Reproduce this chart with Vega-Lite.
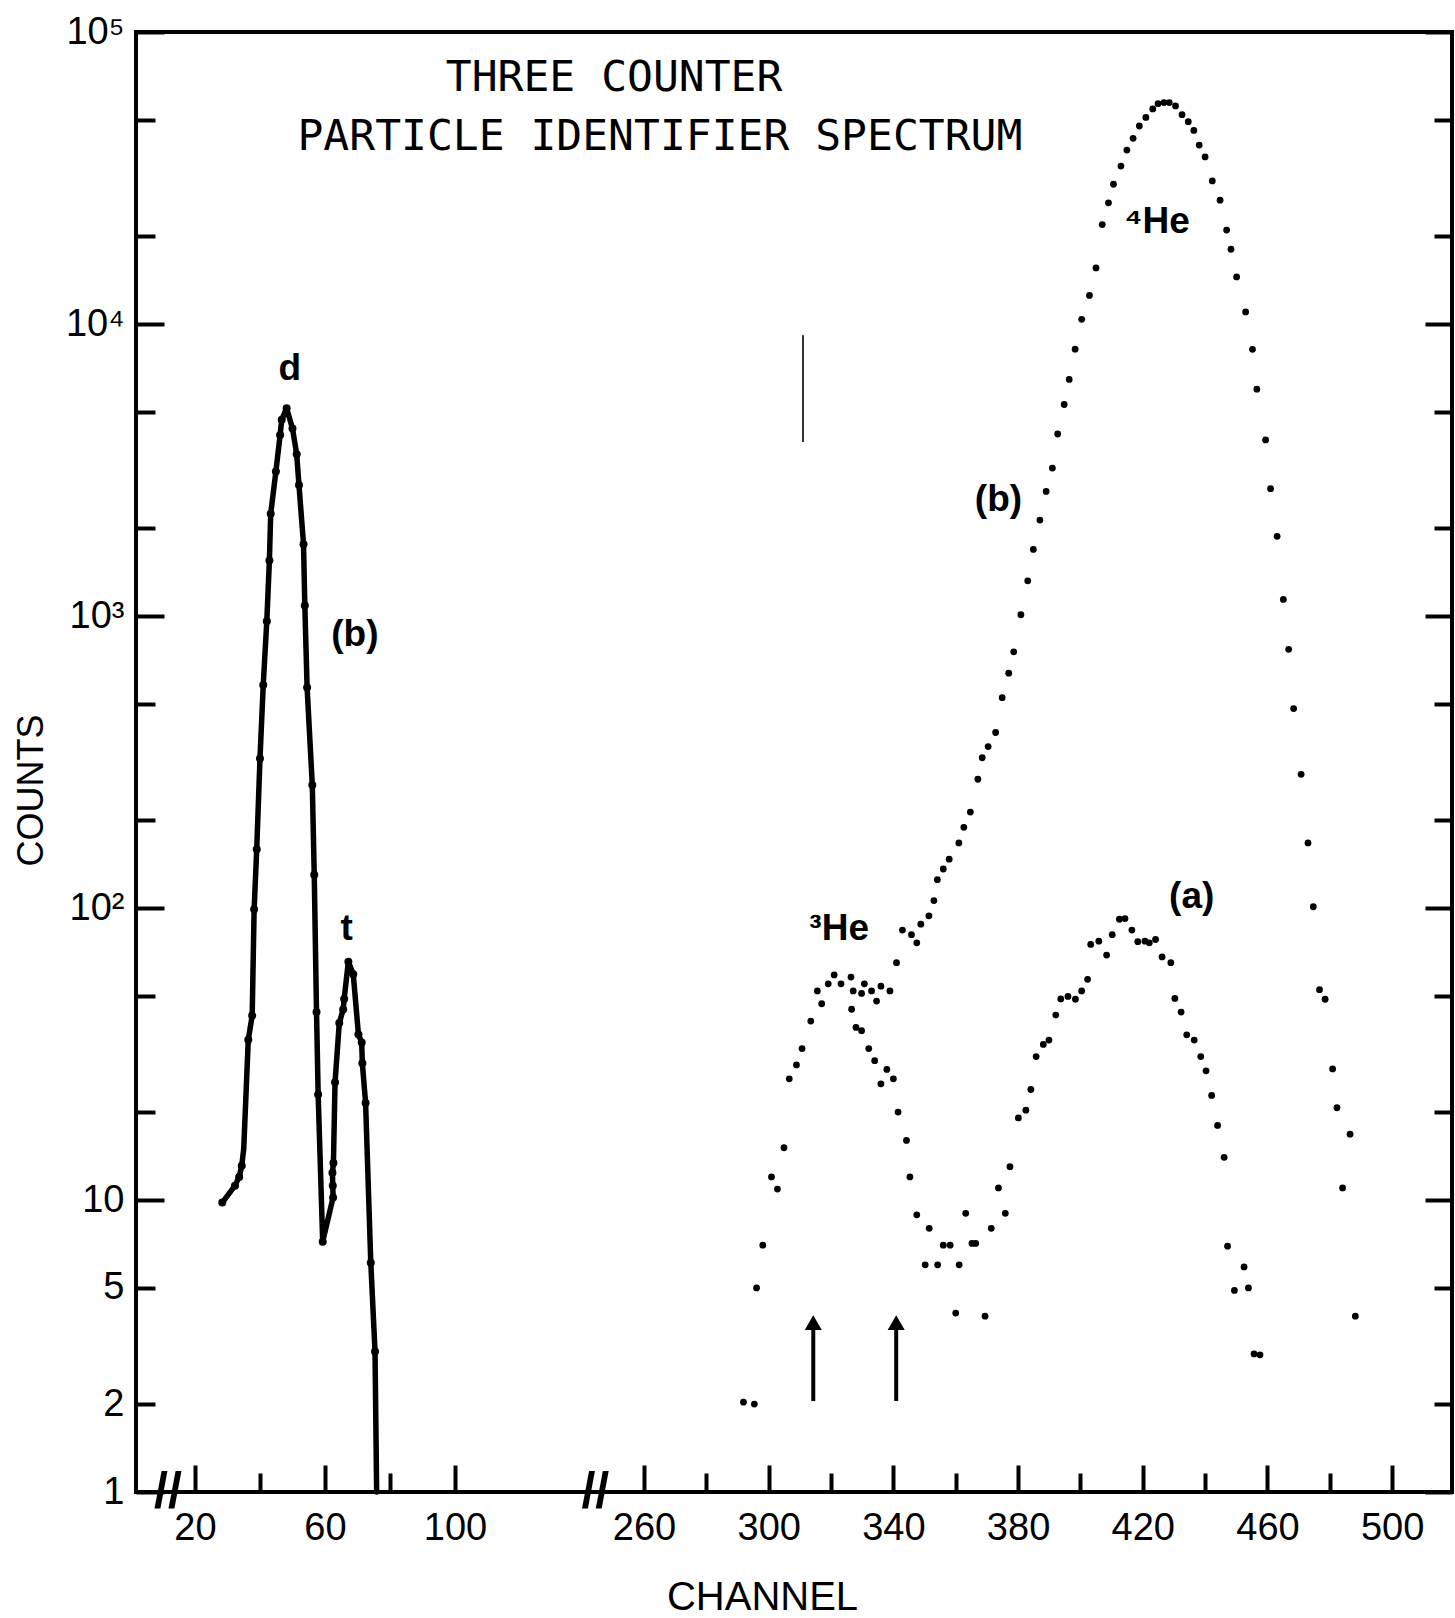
{
  "$schema": "https://vega.github.io/schema/vega-lite/v6.json",
  "width": 1316,
  "height": 1460,
  "autosize": {"type": "none"},
  "padding": {"left": 136, "top": 32, "right": 3, "bottom": 126},
  "background": "white",
  "config": {
    "view": {"stroke": "black", "strokeWidth": 4},
    "axis": {
      "grid": false,
      "domain": false,
      "tickColor": "black",
      "tickWidth": 4,
      "labelColor": "black",
      "labelFont": "Liberation Sans",
      "labelFontSize": 38,
      "labelOverlap": false,
      "labelFlush": false,
      "titleColor": "black",
      "titleFont": "Liberation Sans",
      "titleFontWeight": "normal"
    }
  },
  "datasets": {
    "left": [
      {"i": 0, "ch": 28.4, "v": 9.8, "dot": true},
      {"i": 1, "ch": 32.3, "v": 11.2, "dot": true},
      {"i": 2, "ch": 33.6, "v": 12.0, "dot": true},
      {"i": 3, "ch": 34.4, "v": 13.1, "dot": true},
      {"i": 4, "ch": 35.0, "v": 15, "dot": false},
      {"i": 5, "ch": 36.4, "v": 35.4, "dot": true},
      {"i": 6, "ch": 37.6, "v": 42.8, "dot": true},
      {"i": 7, "ch": 38.2, "v": 99, "dot": true},
      {"i": 8, "ch": 39.0, "v": 159, "dot": true},
      {"i": 9, "ch": 40.0, "v": 325, "dot": true},
      {"i": 10, "ch": 41.0, "v": 580, "dot": true},
      {"i": 11, "ch": 42.1, "v": 960, "dot": true},
      {"i": 12, "ch": 42.9, "v": 1550, "dot": true},
      {"i": 13, "ch": 43.3, "v": 2240, "dot": true},
      {"i": 14, "ch": 44.9, "v": 3125, "dot": true},
      {"i": 15, "ch": 46.2, "v": 4170, "dot": true},
      {"i": 16, "ch": 46.7, "v": 4700, "dot": true},
      {"i": 17, "ch": 48.2, "v": 5150, "dot": true},
      {"i": 18, "ch": 50.0, "v": 4390, "dot": true},
      {"i": 19, "ch": 51.3, "v": 3580, "dot": true},
      {"i": 20, "ch": 52.0, "v": 2810, "dot": true},
      {"i": 21, "ch": 53.4, "v": 1760, "dot": true},
      {"i": 22, "ch": 53.8, "v": 1087, "dot": true},
      {"i": 23, "ch": 54.5, "v": 569, "dot": true},
      {"i": 24, "ch": 56.1, "v": 264, "dot": true},
      {"i": 25, "ch": 56.7, "v": 130, "dot": true},
      {"i": 26, "ch": 57.4, "v": 44, "dot": true},
      {"i": 27, "ch": 57.9, "v": 23, "dot": true},
      {"i": 28, "ch": 59.3, "v": 7.2, "dot": true},
      {"i": 29, "ch": 62.5, "v": 10.2, "dot": true},
      {"i": 30, "ch": 62.4, "v": 11.2, "dot": true},
      {"i": 31, "ch": 62.3, "v": 12.4, "dot": true},
      {"i": 32, "ch": 62.6, "v": 13.4, "dot": true},
      {"i": 33, "ch": 63.1, "v": 25.3, "dot": true},
      {"i": 34, "ch": 64.4, "v": 40.4, "dot": true},
      {"i": 35, "ch": 65.6, "v": 44.9, "dot": true},
      {"i": 36, "ch": 65.9, "v": 48.8, "dot": true},
      {"i": 37, "ch": 67.2, "v": 65.5, "dot": true},
      {"i": 38, "ch": 68.7, "v": 59.3, "dot": true},
      {"i": 39, "ch": 70.3, "v": 36.9, "dot": true},
      {"i": 40, "ch": 71.3, "v": 34.6, "dot": true},
      {"i": 41, "ch": 71.5, "v": 29.4, "dot": true},
      {"i": 42, "ch": 72.5, "v": 21.5, "dot": true},
      {"i": 43, "ch": 74.1, "v": 6.1, "dot": true},
      {"i": 44, "ch": 75.4, "v": 3.03, "dot": true},
      {"i": 45, "ch": 75.9, "v": 1.0, "dot": false}
    ],
    "right": [
      {"s": "b", "ch": 291.9, "v": 2.03},
      {"s": "b", "ch": 295.4, "v": 2.0},
      {"s": "b", "ch": 296.1, "v": 5.0},
      {"s": "b", "ch": 298.1, "v": 7.0},
      {"s": "b", "ch": 300.9, "v": 12.0},
      {"s": "b", "ch": 302.8, "v": 10.9},
      {"s": "b", "ch": 304.9, "v": 15.1},
      {"s": "b", "ch": 306.6, "v": 26},
      {"s": "b", "ch": 308.9, "v": 29},
      {"s": "b", "ch": 310.7, "v": 33},
      {"s": "b", "ch": 313.5, "v": 41},
      {"s": "b", "ch": 315.6, "v": 52},
      {"s": "b", "ch": 317.0, "v": 47},
      {"s": "b", "ch": 319.1, "v": 55},
      {"s": "b", "ch": 321.0, "v": 59},
      {"s": "b", "ch": 323.2, "v": 55},
      {"s": "b", "ch": 326.4, "v": 58},
      {"s": "b", "ch": 327.1, "v": 52},
      {"s": "b", "ch": 329.8, "v": 51},
      {"s": "b", "ch": 330.7, "v": 55},
      {"s": "b", "ch": 333.0, "v": 52},
      {"s": "b", "ch": 334.6, "v": 48},
      {"s": "b", "ch": 336.0, "v": 54},
      {"s": "b", "ch": 338.9, "v": 52},
      {"s": "b", "ch": 341.0, "v": 65},
      {"s": "b", "ch": 342.9, "v": 84},
      {"s": "b", "ch": 345.8, "v": 81},
      {"s": "b", "ch": 347.5, "v": 76},
      {"s": "b", "ch": 348.8, "v": 88},
      {"s": "b", "ch": 351.4, "v": 94},
      {"s": "b", "ch": 353.0, "v": 106},
      {"s": "b", "ch": 354.1, "v": 125},
      {"s": "b", "ch": 356.0, "v": 136},
      {"s": "b", "ch": 357.9, "v": 147},
      {"s": "b", "ch": 361.0, "v": 167},
      {"s": "b", "ch": 362.6, "v": 189},
      {"s": "b", "ch": 364.7, "v": 213},
      {"s": "b", "ch": 367.1, "v": 276},
      {"s": "b", "ch": 368.5, "v": 327},
      {"s": "b", "ch": 370.4, "v": 357},
      {"s": "b", "ch": 372.8, "v": 399},
      {"s": "b", "ch": 374.9, "v": 525},
      {"s": "b", "ch": 377.0, "v": 637},
      {"s": "b", "ch": 378.6, "v": 754},
      {"s": "b", "ch": 380.9, "v": 1010},
      {"s": "b", "ch": 383.1, "v": 1320},
      {"s": "b", "ch": 384.9, "v": 1690},
      {"s": "b", "ch": 387.0, "v": 2130},
      {"s": "b", "ch": 389.0, "v": 2670},
      {"s": "b", "ch": 391.0, "v": 3210},
      {"s": "b", "ch": 392.7, "v": 4200},
      {"s": "b", "ch": 394.8, "v": 5300},
      {"s": "b", "ch": 396.4, "v": 6460},
      {"s": "b", "ch": 398.3, "v": 8200},
      {"s": "b", "ch": 400.4, "v": 10380},
      {"s": "b", "ch": 402.9, "v": 12530},
      {"s": "b", "ch": 405.0, "v": 15560},
      {"s": "b", "ch": 407.0, "v": 21900},
      {"s": "b", "ch": 409.0, "v": 26000},
      {"s": "b", "ch": 410.6, "v": 30100},
      {"s": "b", "ch": 413.0, "v": 34750},
      {"s": "b", "ch": 414.9, "v": 39400},
      {"s": "b", "ch": 416.9, "v": 43250},
      {"s": "b", "ch": 418.9, "v": 47650},
      {"s": "b", "ch": 421.0, "v": 51000},
      {"s": "b", "ch": 423.2, "v": 54500},
      {"s": "b", "ch": 424.9, "v": 56800},
      {"s": "b", "ch": 426.8, "v": 57300},
      {"s": "b", "ch": 428.5, "v": 57300},
      {"s": "b", "ch": 430.5, "v": 55800},
      {"s": "b", "ch": 432.6, "v": 52100},
      {"s": "b", "ch": 434.6, "v": 49300},
      {"s": "b", "ch": 436.4, "v": 46000},
      {"s": "b", "ch": 438.1, "v": 41000},
      {"s": "b", "ch": 440.0, "v": 37350},
      {"s": "b", "ch": 442.3, "v": 30900},
      {"s": "b", "ch": 444.8, "v": 26550},
      {"s": "b", "ch": 446.9, "v": 20980},
      {"s": "b", "ch": 448.3, "v": 18030},
      {"s": "b", "ch": 450.1, "v": 14500},
      {"s": "b", "ch": 453.0, "v": 11000},
      {"s": "b", "ch": 455.2, "v": 8190},
      {"s": "b", "ch": 456.6, "v": 5980},
      {"s": "b", "ch": 459.4, "v": 4010},
      {"s": "b", "ch": 461.0, "v": 2730},
      {"s": "b", "ch": 463.1, "v": 1875},
      {"s": "b", "ch": 465.1, "v": 1140},
      {"s": "b", "ch": 466.8, "v": 769},
      {"s": "b", "ch": 468.4, "v": 482},
      {"s": "b", "ch": 470.8, "v": 287},
      {"s": "b", "ch": 473.0, "v": 167},
      {"s": "b", "ch": 474.7, "v": 101},
      {"s": "b", "ch": 476.7, "v": 52.5},
      {"s": "b", "ch": 478.5, "v": 48.7},
      {"s": "b", "ch": 480.9, "v": 28.1},
      {"s": "b", "ch": 482.3, "v": 20.7},
      {"s": "b", "ch": 484.1, "v": 11.0},
      {"s": "b", "ch": 486.5, "v": 16.8},
      {"s": "b", "ch": 488.2, "v": 4.0},
      {"s": "a", "ch": 326.6, "v": 45},
      {"s": "a", "ch": 328.0, "v": 39},
      {"s": "a", "ch": 329.8, "v": 38},
      {"s": "a", "ch": 332.1, "v": 33},
      {"s": "a", "ch": 334.0, "v": 30},
      {"s": "a", "ch": 336.0, "v": 25},
      {"s": "a", "ch": 337.9, "v": 28},
      {"s": "a", "ch": 340.0, "v": 26},
      {"s": "a", "ch": 341.5, "v": 20},
      {"s": "a", "ch": 344.2, "v": 16},
      {"s": "a", "ch": 345.3, "v": 12},
      {"s": "a", "ch": 347.5, "v": 8.9},
      {"s": "a", "ch": 350.2, "v": 6.0},
      {"s": "a", "ch": 351.5, "v": 8.0},
      {"s": "a", "ch": 354.2, "v": 6.0},
      {"s": "a", "ch": 356.0, "v": 7.0},
      {"s": "a", "ch": 358.2, "v": 7.0},
      {"s": "a", "ch": 360.0, "v": 4.1},
      {"s": "a", "ch": 361.1, "v": 6.0},
      {"s": "a", "ch": 363.2, "v": 9.0},
      {"s": "a", "ch": 365.2, "v": 7.1},
      {"s": "a", "ch": 366.4, "v": 7.1},
      {"s": "a", "ch": 369.4, "v": 4.0},
      {"s": "a", "ch": 371.4, "v": 8.0},
      {"s": "a", "ch": 373.7, "v": 11.0},
      {"s": "a", "ch": 375.9, "v": 9.0},
      {"s": "a", "ch": 377.4, "v": 13.0},
      {"s": "a", "ch": 380.1, "v": 19.1},
      {"s": "a", "ch": 382.5, "v": 20.3},
      {"s": "a", "ch": 384.1, "v": 23.9},
      {"s": "a", "ch": 385.8, "v": 31},
      {"s": "a", "ch": 388.1, "v": 34.1},
      {"s": "a", "ch": 389.9, "v": 35.3},
      {"s": "a", "ch": 392.1, "v": 43},
      {"s": "a", "ch": 393.7, "v": 48.8},
      {"s": "a", "ch": 396.0, "v": 49.8},
      {"s": "a", "ch": 398.4, "v": 48.7},
      {"s": "a", "ch": 400.4, "v": 52},
      {"s": "a", "ch": 402.3, "v": 57},
      {"s": "a", "ch": 403.3, "v": 75},
      {"s": "a", "ch": 405.9, "v": 77},
      {"s": "a", "ch": 408.4, "v": 69},
      {"s": "a", "ch": 410.2, "v": 81},
      {"s": "a", "ch": 412.5, "v": 91.5},
      {"s": "a", "ch": 414.3, "v": 92},
      {"s": "a", "ch": 416.5, "v": 84},
      {"s": "a", "ch": 418.4, "v": 76.7},
      {"s": "a", "ch": 420.7, "v": 77},
      {"s": "a", "ch": 422.1, "v": 76},
      {"s": "a", "ch": 424.1, "v": 78},
      {"s": "a", "ch": 426.2, "v": 68},
      {"s": "a", "ch": 429.0, "v": 65},
      {"s": "a", "ch": 430.3, "v": 49},
      {"s": "a", "ch": 432.3, "v": 44},
      {"s": "a", "ch": 434.1, "v": 36.8},
      {"s": "a", "ch": 436.5, "v": 35.3},
      {"s": "a", "ch": 438.6, "v": 31},
      {"s": "a", "ch": 440.3, "v": 27.7},
      {"s": "a", "ch": 442.1, "v": 22.8},
      {"s": "a", "ch": 444.0, "v": 18.0},
      {"s": "a", "ch": 446.1, "v": 14.0},
      {"s": "a", "ch": 447.2, "v": 6.95},
      {"s": "a", "ch": 449.4, "v": 4.9},
      {"s": "a", "ch": 452.5, "v": 5.9},
      {"s": "a", "ch": 453.9, "v": 5.0},
      {"s": "a", "ch": 455.7, "v": 2.97},
      {"s": "a", "ch": 457.6, "v": 2.95}
    ],
    "labels": [
      {"t": "d", "ch": 49.2, "v": 6430},
      {"t": "t", "ch": 66.7, "v": 78},
      {"t": "(b)", "ch": 69.2, "v": 790},
      {"t": "(b)", "ch": 373.7, "v": 2290},
      {"t": "⁴He", "ch": 424.6, "v": 20500},
      {"t": "³He", "ch": 322.6, "v": 77.5},
      {"t": "(a)", "ch": 435.7, "v": 100}
    ],
    "titles": [
      {"t": "THREE  COUNTER", "ch": 250.4, "v": 63000},
      {"t": "PARTICLE IDENTIFIER SPECTRUM", "ch": 265.1, "v": 39500}
    ],
    "arrows": [
      {"ch": 314.3, "v1": 2.05, "v2": 3.6, "tip": 3.8},
      {"ch": 340.9, "v1": 2.05, "v2": 3.6, "tip": 3.8}
    ],
    "breaks": [
      {"ch": 11.7, "v": 1, "t": "//"},
      {"ch": 143.2, "v": 1, "t": "//"}
    ],
    "streak": [
      {"ch": 311.0, "v1": 3945, "v2": 9160}
    ]
  },
  "layer": [
    {
      "data": {"name": "left"},
      "mark": {"type": "line", "color": "black", "strokeWidth": 5.5, "strokeCap": "round", "strokeJoin": "round"},
      "encoding": {
        "x": {"field": "ch", "type": "quantitative",
          "scale": {"type": "linear", "domain": [1.85, 143.4, 244.6, 519.2], "range": [0, 460, 460, 1316], "nice": false, "zero": false},
          "axis": {"orient": "bottom", "values": [20, 60, 100, 260, 300, 340, 380, 420, 460, 500], "tickSize": -27, "labelPadding": 44, "labelBaseline": "top",
            "title": "CHANNEL", "titleFontSize": 40, "titleX": 626, "titleY": 105, "titleBaseline": "middle", "titleAlign": "center", "titleAnchor": null}},
        "y": {"field": "v", "type": "quantitative",
          "scale": {"type": "log", "domain": [1, 100000], "nice": false},
          "axis": {"orient": "left", "values": [1, 10, 100, 1000, 10000, 100000], "tickSize": -28, "labelPadding": 40,
            "labelExpr": "datum.value >= 100000 ? '10⁵' : datum.value >= 10000 ? '10⁴' : datum.value >= 1000 ? '10³' : datum.value >= 100 ? '10²' : datum.value >= 10 ? '10' : '1'",
            "title": "COUNTS", "titleFontSize": 36, "titleAngle": -90, "titleX": -105, "titleY": 758, "titleBaseline": "middle", "titleAlign": "center", "titleAnchor": null}},
        "order": {"field": "i", "type": "quantitative"}
      }
    },
    {
      "data": {"name": "left"},
      "transform": [{"filter": "datum.dot"}],
      "mark": {"type": "circle", "color": "black", "size": 64, "opacity": 1},
      "encoding": {
        "x": {"field": "ch", "type": "quantitative",
          "scale": {"type": "linear", "domain": [1.85, 143.4, 244.6, 519.2], "range": [0, 460, 460, 1316], "nice": false, "zero": false},
          "axis": {"orient": "bottom", "values": [40, 80, 280, 320, 360, 400, 440, 480], "tickSize": -19, "labels": false, "title": null}},
        "y": {"field": "v", "type": "quantitative",
          "scale": {"type": "log", "domain": [1, 100000], "nice": false},
          "axis": {"orient": "left", "values": [2, 5, 20, 50, 200, 500, 2000, 5000, 20000, 50000], "tickSize": -19, "labelPadding": 31,
            "labelExpr": "datum.value == 2 ? '2' : datum.value == 5 ? '5' : ''", "title": null}}
      }
    },
    {
      "data": {"name": "right"},
      "transform": [{"filter": "datum.s == 'b'"}],
      "mark": {"type": "circle", "color": "black", "size": 46, "opacity": 1},
      "encoding": {
        "x": {"field": "ch", "type": "quantitative",
          "scale": {"type": "linear", "domain": [1.85, 143.4, 244.6, 519.2], "range": [0, 460, 460, 1316], "nice": false, "zero": false},
          "axis": null},
        "y": {"field": "v", "type": "quantitative",
          "scale": {"type": "log", "domain": [1, 100000], "nice": false},
          "axis": {"orient": "right", "values": [1, 10, 100, 1000, 10000, 100000], "tickSize": -27, "labels": false, "title": null}}
      }
    },
    {
      "data": {"name": "right"},
      "transform": [{"filter": "datum.s == 'a'"}],
      "mark": {"type": "circle", "color": "black", "size": 46, "opacity": 1},
      "encoding": {
        "x": {"field": "ch", "type": "quantitative",
          "scale": {"type": "linear", "domain": [1.85, 143.4, 244.6, 519.2], "range": [0, 460, 460, 1316], "nice": false, "zero": false},
          "axis": null},
        "y": {"field": "v", "type": "quantitative",
          "scale": {"type": "log", "domain": [1, 100000], "nice": false},
          "axis": {"orient": "right", "values": [2, 5, 20, 50, 200, 500, 2000, 5000, 20000, 50000], "tickSize": -18, "labels": false, "title": null}}
      }
    },
    {
      "data": {"name": "labels"},
      "mark": {"type": "text", "font": "Liberation Sans", "fontSize": 37, "fontWeight": "bold", "color": "black", "align": "center", "baseline": "alphabetic"},
      "encoding": {
        "x": {"field": "ch", "type": "quantitative", "axis": null},
        "y": {"field": "v", "type": "quantitative", "axis": null},
        "text": {"field": "t"}
      }
    },
    {
      "data": {"name": "titles"},
      "mark": {"type": "text", "font": "DejaVu Sans Mono", "fontSize": 43, "color": "black", "align": "center", "baseline": "alphabetic"},
      "encoding": {
        "x": {"field": "ch", "type": "quantitative", "axis": null},
        "y": {"field": "v", "type": "quantitative", "axis": null},
        "text": {"field": "t"}
      }
    },
    {
      "data": {"name": "arrows"},
      "mark": {"type": "rule", "color": "black", "strokeWidth": 4},
      "encoding": {
        "x": {"field": "ch", "type": "quantitative", "axis": null},
        "y": {"field": "v1", "type": "quantitative", "axis": null},
        "y2": {"field": "v2"}
      }
    },
    {
      "data": {"name": "arrows"},
      "mark": {"type": "point", "shape": "triangle-up", "filled": true, "color": "black", "size": 290, "opacity": 1},
      "encoding": {
        "x": {"field": "ch", "type": "quantitative", "axis": null},
        "y": {"field": "tip", "type": "quantitative", "axis": null}
      }
    },
    {
      "data": {"name": "breaks"},
      "mark": {"type": "text", "font": "Liberation Sans", "fontSize": 50, "fontWeight": "bold", "color": "black", "align": "center", "baseline": "middle"},
      "encoding": {
        "x": {"field": "ch", "type": "quantitative", "axis": null},
        "y": {"field": "v", "type": "quantitative", "axis": null},
        "text": {"field": "t"}
      }
    },
    {
      "data": {"name": "streak"},
      "mark": {"type": "rule", "color": "#333333", "strokeWidth": 2},
      "encoding": {
        "x": {"field": "ch", "type": "quantitative", "axis": null},
        "y": {"field": "v1", "type": "quantitative", "axis": null},
        "y2": {"field": "v2"}
      }
    }
  ],
  "resolve": {"axis": {"x": "independent", "y": "independent"}}
}
